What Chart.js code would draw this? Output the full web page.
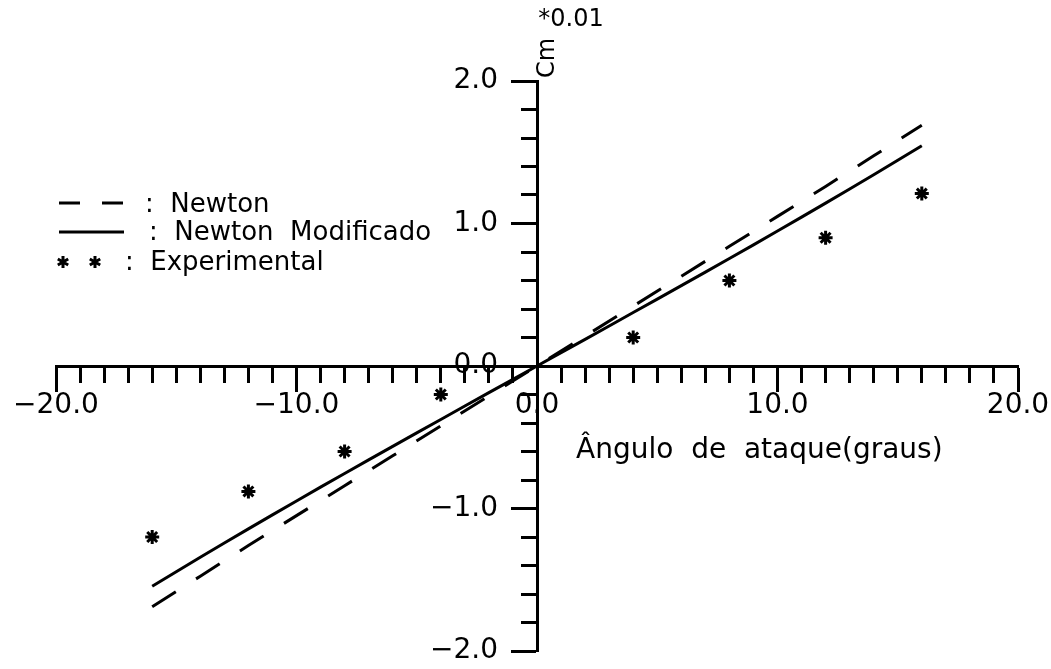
<!DOCTYPE html>
<html>
<head>
<meta charset="utf-8">
<script src="https://cdn.jsdelivr.net/npm/chart.js@4.4.1/dist/chart.umd.min.js"></script>
<style>
  html, body { margin: 0; padding: 0; background: #fff; }
  #box { width: 1051px; height: 669px; }
</style>
</head>
<body>
<div id="box"><canvas id="grafico"></canvas></div>
<script>
// angulo de ataque (graus) e Cm (*0.01)
const angulos = [-16, -14, -12, -10, -8, -6, -4, -2, 0, 2, 4, 6, 8, 10, 12, 14, 16];
const newton = [-1.69, -1.475, -1.26, -1.05, -0.84, -0.63, -0.42, -0.21, 0, 0.21, 0.42, 0.63, 0.84, 1.05, 1.26, 1.475, 1.69];
const newtonModificado = [-1.545, -1.342, -1.143, -0.947, -0.754, -0.564, -0.375, -0.187, 0, 0.187, 0.375, 0.564, 0.754, 0.947, 1.143, 1.342, 1.545];
const angulosExp = [-16, -12, -8, -4, 4, 8, 12, 16];
const experimental = [-1.2, -0.88, -0.6, -0.2, 0.2, 0.6, 0.9, 1.21];

const FONTE = "'DejaVu Sans', sans-serif";

function pares(xs, ys) {
    return xs.map(function (x, i) { return {x: x, y: ys[i]}; });
}

function rotulo(v) {
    return Number(v).toFixed(1).replace('-', '\u2212');
}

const textos = {
    id: 'textos',
    afterDraw: function (chart) {
        const ctx = chart.ctx;
        ctx.save();
        ctx.fillStyle = '#000';
        ctx.strokeStyle = '#000';
        ctx.lineWidth = 3;
        ctx.textBaseline = 'middle';
        ctx.font = '26px ' + FONTE;

        // legenda
        ctx.beginPath();
        ctx.moveTo(59, 203); ctx.lineTo(80, 203);
        ctx.moveTo(102, 203); ctx.lineTo(123, 203);
        ctx.moveTo(59, 232); ctx.lineTo(124, 232);
        ctx.stroke();
        [63, 95].forEach(function (x) {
            ctx.beginPath();
            for (let k = 0; k < 3; k++) {
                const a = Math.PI / 2 + k * Math.PI / 3;
                ctx.moveTo(x + 6 * Math.cos(a), 262 + 6 * Math.sin(a));
                ctx.lineTo(x - 6 * Math.cos(a), 262 - 6 * Math.sin(a));
            }
            ctx.stroke();
        });
        ctx.textAlign = 'left';
        ctx.fillText(':  Newton', 145, 205);
        ctx.fillText(':  Newton  Modificado', 149, 233);
        ctx.fillText(':  Experimental', 125, 263);

        // titulo eixo x
        ctx.font = '28px ' + FONTE;
        ctx.fillText('\u00C2ngulo  de  ataque(graus)', 576, 451);

        // titulo eixo y
        ctx.font = '24px ' + FONTE;
        ctx.textAlign = 'center';
        ctx.fillText('*0.01', 571, 20);
        ctx.translate(548, 58);
        ctx.rotate(-Math.PI / 2);
        ctx.fillText('Cm', 0, 0);
        ctx.restore();
    }
};

function eixoTicks(passo, comprimento, min, max, pos) {
    return {
        type: 'linear',
        min: min,
        max: max,
        position: pos,
        ticks: {display: false, stepSize: passo},
        grid: {drawOnChartArea: false, color: '#000', tickLength: comprimento, tickWidth: 3},
        border: {color: '#000', width: 3}
    };
}

// eixo so com os rotulos, deslocado do eixo principal
function eixoRotulos(passo, min, max, pos) {
    return {
        type: 'linear',
        min: min,
        max: max,
        position: pos,
        ticks: {
            stepSize: passo,
            autoSkip: false,
            maxRotation: 0,
            padding: 0,
            color: '#000',
            font: {family: FONTE, size: 28},
            callback: rotulo
        },
        grid: {display: false, drawTicks: false},
        border: {display: false}
    };
}

new Chart(document.getElementById('grafico'), {
    type: 'scatter',
    data: {
        datasets: [
            {
                label: 'Newton',
                data: pares(angulos, newton),
                showLine: true,
                borderColor: '#000',
                borderWidth: 3,
                borderDash: [28, 24],
                pointRadius: 0,
                tension: 0
            },
            {
                label: 'Newton Modificado',
                data: pares(angulos, newtonModificado),
                showLine: true,
                borderColor: '#000',
                borderWidth: 3,
                pointRadius: 0,
                tension: 0.2
            },
            {
                label: 'Experimental',
                data: pares(angulosExp, experimental),
                showLine: false,
                pointStyle: 'star',
                pointRadius: 7,
                borderWidth: 3,
                borderColor: '#000',
                backgroundColor: '#000'
            }
        ]
    },
    options: {
        responsive: true,
        maintainAspectRatio: false,
        animation: false,
        layout: {padding: {left: 56, right: 33, top: 81, bottom: 18}},
        scales: {
            x: eixoTicks(1, 15, -20, 20, {y: 0}),
            xMaior: eixoTicks(10, 24, -20, 20, {y: 0}),
            xRotulos: eixoRotulos(10, -20, 20, {y: -0.16}),
            y: eixoTicks(0.2, 15, -2, 2, {x: 0}),
            yMaior: eixoTicks(1, 25, -2, 2, {x: 0}),
            yRotulos: eixoRotulos(1, -2, 2, {x: -1.62})
        },
        plugins: {
            legend: {display: false},
            tooltip: {enabled: false}
        }
    },
    plugins: [textos]
});
</script>
</body>
</html>
